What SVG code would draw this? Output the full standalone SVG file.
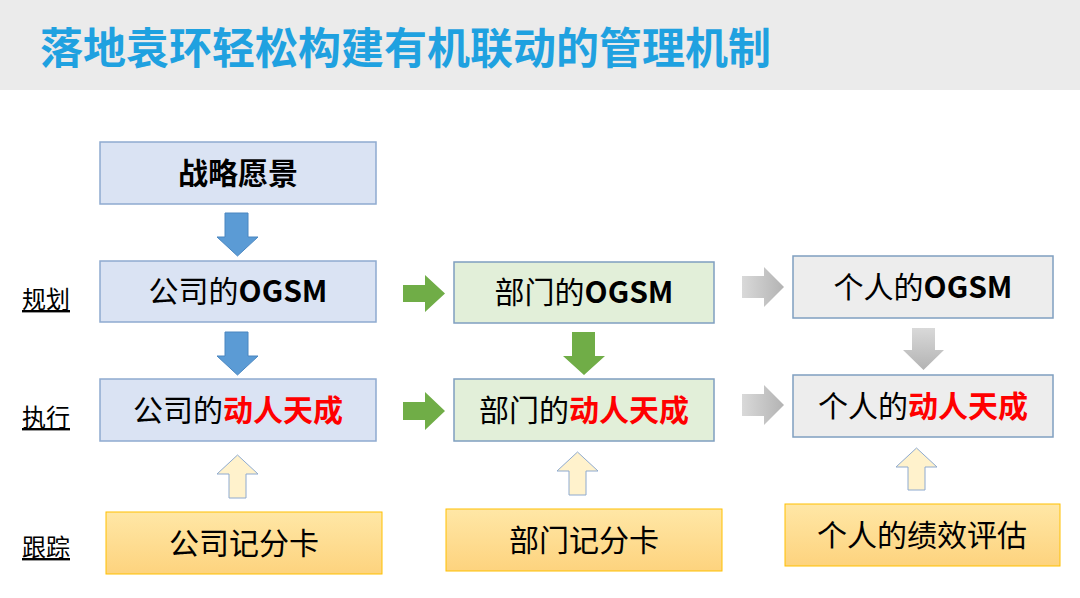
<svg xmlns="http://www.w3.org/2000/svg" width="1080" height="598" viewBox="0 0 1080 598">
<defs>
<linearGradient id="yel" x1="0" y1="0" x2="0" y2="1"><stop offset="0" stop-color="#ffe7a6"/><stop offset="1" stop-color="#fdd37e"/></linearGradient>
<linearGradient id="gry" x1="0" y1="0" x2="1" y2="0"><stop offset="0" stop-color="#d9d9d9"/><stop offset="1" stop-color="#b3b3b3"/></linearGradient>
<linearGradient id="gryd" x1="0" y1="0" x2="0" y2="1"><stop offset="0" stop-color="#d9d9d9"/><stop offset="1" stop-color="#b3b3b3"/></linearGradient>
<style>
text{font-family:"Noto Sans CJK SC","Liberation Sans",sans-serif;}
.t{font-size:30px;fill:#000;text-anchor:middle;}
.b{font-weight:bold;}
.r{fill:#ff0000;font-weight:bold;}
.lab{font-size:24px;text-decoration:underline;}
.blue{fill:#dae3f3;stroke:#8eaad0;stroke-width:1.5;}
.green{fill:#e2efd9;stroke:#7f9fc0;stroke-width:1.5;}
.gray{fill:#ededed;stroke:#7f9fc0;stroke-width:1.5;}
.yel{fill:url(#yel);stroke:#ffc000;stroke-width:1;}
</style>
</defs>
<rect x="0" y="0" width="1080" height="90" fill="#ebebeb"/>
<text x="40" y="64" font-size="43" font-weight="bold" fill="#1fa1e0">落地袁环轻松构建有机联动的管理机制</text>
<text class="lab" x="22" y="308">规划</text>
<text class="lab" x="22" y="426">执行</text>
<text class="lab" x="22" y="556">跟踪</text>
<g id="connectors">
<path d="M225,213H248V237H258L237.5,256L217,237H225Z" fill="#5b9bd5" stroke="#4a86c0"/>
<path d="M225,332H248V356H258L237.5,375L217,356H225Z" fill="#5b9bd5" stroke="#4a86c0"/>
<path d="M229,498H246V474H258L237.5,455L217,474H229Z" fill="#fff2cc" stroke="#8eaad0"/>
<path d="M403,285H425V275L445,293.5L425,312V302H403Z" fill="#70ad47"/>
<path d="M403,402H425V392L445,411L425,430V420H403Z" fill="#70ad47"/>
<path d="M572,332H595V356H605L584,375L563,356H572Z" fill="#70ad47"/>
<path d="M569,495H586V471H598L577.5,452L557,471H569Z" fill="#fff2cc" stroke="#8eaad0"/>
<path d="M742,276H764V267L784,287L764,307V298H742Z" fill="url(#gry)"/>
<path d="M742,394H764V385L784,405L764,425V416H742Z" fill="url(#gry)"/>
<path d="M912,328H935V350H944L923.5,370L903,350H912Z" fill="url(#gryd)"/>
<path d="M908,490H925V467H937L916.5,448L896,467H908Z" fill="#fff2cc" stroke="#8eaad0"/>
</g>
<g id="n1"><rect class="blue" x="100" y="142" width="276" height="62"/><text class="t b" x="238" y="184">战略愿景</text></g>
<g id="n2"><rect class="blue" x="100" y="261" width="276" height="61"/><text class="t" x="238" y="302">公司的<tspan class="b">OGSM</tspan></text></g>
<g id="n3"><rect class="blue" x="100" y="379" width="276" height="62"/><text class="t" x="238" y="421">公司的<tspan class="r">动人天成</tspan></text></g>
<g id="n4"><rect class="yel" x="106" y="512" width="276" height="62"/><text class="t" x="244" y="554">公司记分卡</text></g>
<g id="n5"><rect class="green" x="454" y="262" width="260" height="61"/><text class="t" x="584" y="303">部门的<tspan class="b">OGSM</tspan></text></g>
<g id="n6"><rect class="green" x="454" y="379" width="260" height="62"/><text class="t" x="584" y="421">部门的<tspan class="r">动人天成</tspan></text></g>
<g id="n7"><rect class="yel" x="446" y="509" width="276" height="62"/><text class="t" x="584" y="551">部门记分卡</text></g>
<g id="n8"><rect class="gray" x="793" y="256" width="260" height="62"/><text class="t" x="923" y="298">个人的<tspan class="b">OGSM</tspan></text></g>
<g id="n9"><rect class="gray" x="793" y="375" width="260" height="62"/><text class="t" x="923" y="417">个人的<tspan class="r">动人天成</tspan></text></g>
<g id="n10"><rect class="yel" x="785" y="504" width="275" height="62"/><text class="t" x="922" y="546">个人的绩效评估</text></g>
</svg>
